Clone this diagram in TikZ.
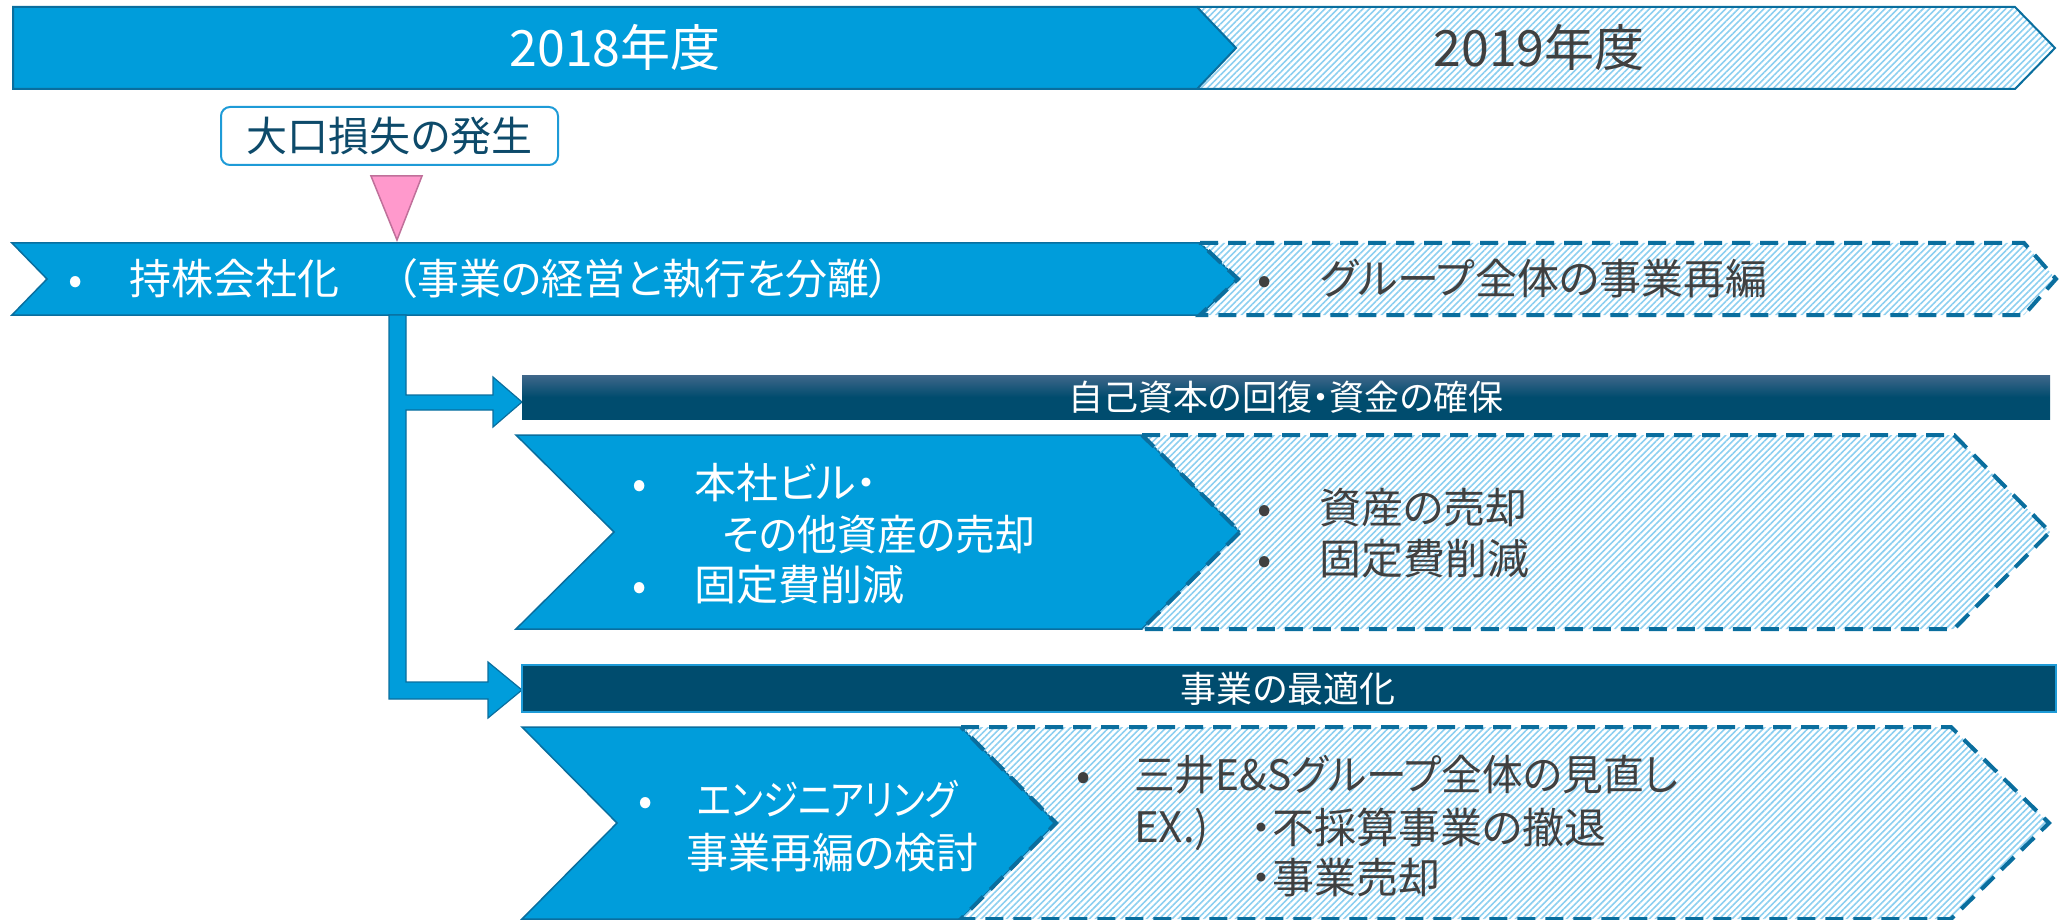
\documentclass[tikz,border=0pt]{standalone}
\usepackage{fontspec}
\setmainfont{Noto Sans CJK JP}[RawFeature=+palt]
\usetikzlibrary{patterns.meta}
\definecolor{mblue}{HTML}{009DDB}
\definecolor{dblue}{HTML}{0A6E9E}
\definecolor{navy}{HTML}{004C6E}
\definecolor{navytop}{HTML}{40678A}
\definecolor{hatch}{HTML}{8CCFF0}
\definecolor{pinkf}{HTML}{FF99CC}
\definecolor{pinkd}{HTML}{C0709A}
\definecolor{gtxt}{HTML}{404040}
\definecolor{ntxt}{HTML}{0D4A6A}
\definecolor{lbord}{HTML}{1E9BD7}
\tikzset{
  solidshape/.style={fill=mblue, draw=dblue, line width=1.5pt, line join=miter},
  hatchshape/.style={pattern={Lines[angle=45,distance=4.5pt,line width=1.6pt]}, pattern color=hatch},
  dashborder/.style={draw=dblue, line width=4pt, dash pattern=on 18pt off 10pt},
  tx/.style={inner sep=0pt, font=\fontsize{#1}{#1}\selectfont,
     execute at begin node={\rule[-0.12em]{0pt}{1em}}},
  wt/.style={tx=#1, text=white},
  gt/.style={tx=#1, text=gtxt},
}
\begin{document}
\begin{tikzpicture}[x=1pt,y=-1pt]
\useasboundingbox (0,0) rectangle (2067,920);
% ---- top timeline ----
\path[hatchshape] (1197,7) -- (2015,7) -- (2055,48) -- (2015,89) -- (1197,89) -- (1236,48) -- cycle;
\draw[dblue, line width=2pt] (1197,7) -- (2015,7) -- (2055,48) -- (2015,89) -- (1197,89);
\draw[solidshape, line width=2pt] (13,7) -- (1197,7) -- (1236,48) -- (1197,89) -- (13,89) -- cycle;
\node[wt=50] (y2018) at (615,48) {2018年度};
\node[gt=50] (y2019) at (1539,48) {2019年度};
% ---- loss box ----
\node[tx=41, text=ntxt, draw=lbord, line width=2pt, rounded corners=9pt,
      minimum width=337pt, minimum height=58pt] (loss) at (389.5,136) {大口損失の発生};
\draw[fill=pinkf, draw=pinkd, line width=1.5pt] (371,176) -- (422,176) -- (397,240) -- cycle;
% ---- holding company row ----
\draw[solidshape] (12,243) -- (1200,243) -- (1238,279) -- (1200,315) -- (12,315) -- (47,279) -- cycle;
\path[hatchshape] (1200,243) -- (2024,243) -- (2056,279) -- (2024,315) -- (1200,315) -- (1238,279) -- cycle;
\draw[dashborder] (1200,243) -- (2024,243) -- (2056,279) -- (2024,315) -- (1200,315) -- (1238,279) -- cycle;
\node[wt=42] (b0) at (76,279) {•};
\node[wt=42, anchor=west] (t0) at (129,279) {持株会社化\hspace{57pt}（事業の経営と執行を分離）};
\node[gt=42] (b0r) at (1265,279) {•};
\node[gt=42, anchor=west] (t0r) at (1320,279) {グループ全体の事業再編};
% ---- bent connector ----
\draw[fill=mblue, draw=dblue, line width=1.2pt]
  (389,315) -- (406,315) -- (406,395) -- (493,395) -- (493,377) -- (522,402) -- (493,427) -- (493,410)
  -- (406,410) -- (406,682) -- (488,682) -- (488,662) -- (522,690) -- (488,718) -- (488,699) -- (389,699) -- cycle;
% ---- bar 1 ----
\path[top color=navytop, bottom color=navy, middle color=navy] (522,375) rectangle (2050,419);
\node[wt=35] (bar1) at (1286,397) {自己資本の回復・資金の確保};
% ---- chevron row 1 ----
\draw[solidshape] (516,435) -- (1142,435) -- (1240,532) -- (1142,629) -- (516,629) -- (614,532) -- cycle;
\path[hatchshape] (1142,435) -- (1954,435) -- (2050,532) -- (1954,629) -- (1142,629) -- (1240,532) -- cycle;
\draw[dashborder] (1142,435) -- (1954,435) -- (2050,532) -- (1954,629) -- (1142,629) -- (1240,532) -- cycle;
\node[wt=42] (b1) at (640,483) {•};
\node[wt=42, anchor=west] (t1) at (694,483) {本社ビル・};
\node[wt=42, anchor=west] (t2) at (723,535) {\scalebox{0.95}[1]{その他資産の売却}};
\node[wt=42] (b2) at (640,585) {•};
\node[wt=42, anchor=west] (t3) at (694,585) {固定費削減};
\node[gt=42] (b3) at (1265,508) {•};
\node[gt=42, anchor=west] (t4) at (1319,508) {資産の売却};
\node[gt=42] (b4) at (1265,559) {•};
\node[gt=42, anchor=west] (t5) at (1319,559) {固定費削減};
% ---- bar 2 ----
\draw[fill=navy, draw=lbord, line width=2.5pt] (522,665) rectangle (2056,712);
\node[wt=36] (bar2) at (1288,689) {事業の最適化};
% ---- chevron row 2 ----
\draw[solidshape] (522,727) -- (961,727) -- (1056,823) -- (961,919) -- (522,919) -- (617,823) -- cycle;
\path[hatchshape] (961,727) -- (1951,727) -- (2049,823) -- (1951,919) -- (961,919) -- (1056,823) -- cycle;
\draw[dashborder] (961,727) -- (1951,727) -- (2049,823) -- (1951,919) -- (961,919) -- (1056,823) -- cycle;
\node[wt=42] (b5) at (646,800) {•};
\node[wt=42, anchor=west] (t6) at (697,800) {\scalebox{0.85}[1]{エンジニアリング}};
\node[wt=42, anchor=west] (t7) at (686,853) {事業再編の検討};
\node[gt=42] (b6) at (1084,775) {•};
\node[gt=42, anchor=west] (t8) at (1134,775) {\scalebox{0.97}[1]{三井E\&Sグループ全体の見直し}};
\node[gt=42, anchor=west] (t9) at (1134,828) {EX.)};
\node[gt=42, anchor=west] (t10) at (1251,828) {・不採算事業の撤退};
\node[gt=42, anchor=west] (t11) at (1251,878) {・事業売却};
\end{tikzpicture}
\end{document}
